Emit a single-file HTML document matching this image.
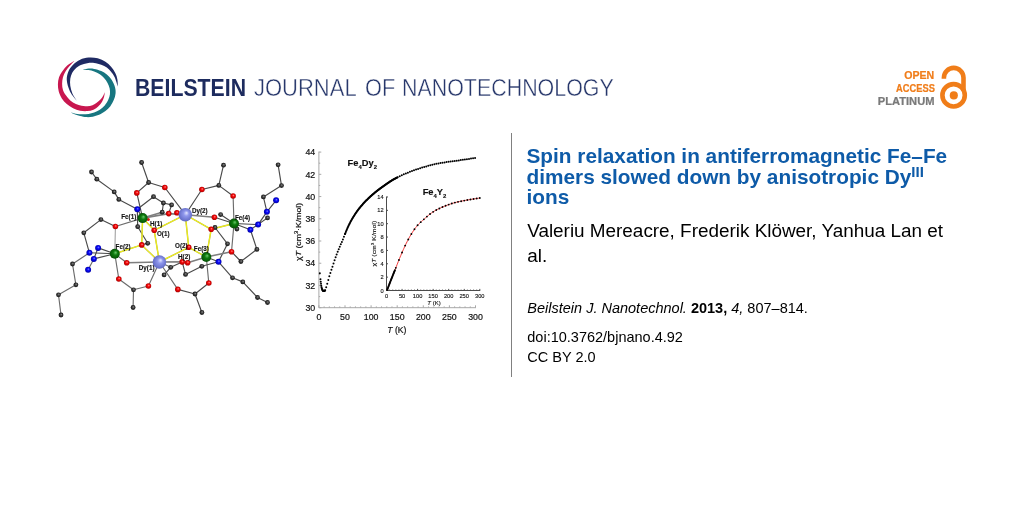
<!DOCTYPE html>
<html lang="en">
<head>
<meta charset="utf-8">
<title>Spin relaxation in antiferromagnetic Fe–Fe dimers slowed down by anisotropic DyIII ions</title>
<style>
html,body{margin:0;padding:0;background:#fff;}
body{width:1024px;height:512px;position:relative;overflow:hidden;will-change:transform;font-family:"Liberation Sans",sans-serif;color:#000;}
.abs{position:absolute;white-space:nowrap;}
.hw{position:absolute;top:74.2px;font-size:23px;line-height:28px;color:#27376b;white-space:nowrap;transform-origin:0 0;}
#w1{left:134.5px;font-weight:bold;color:#1d2b5e;transform:scaleX(0.924);}
#w2{left:253.5px;transform:scaleX(0.956);-webkit-text-stroke:0.4px #fff;}
#w3{left:364.6px;transform:scaleX(0.944);-webkit-text-stroke:0.4px #fff;}
#w4{left:401.5px;transform:scaleX(0.931);-webkit-text-stroke:0.4px #fff;}
.oa{position:absolute;right:89.4px;text-align:right;font-weight:bold;font-size:10.3px;line-height:13.2px;color:#f07d1a;white-space:nowrap;transform-origin:100% 0;-webkit-text-stroke:0.22px currentColor;}
#vline{position:absolute;left:511px;top:133.4px;width:1px;height:244px;background:#808080;}
#title{position:absolute;left:526.5px;top:146.1px;width:432px;font-weight:bold;font-size:20.8px;line-height:20.6px;color:#0e5ba8;}
#title sup{font-size:15px;line-height:0;vertical-align:baseline;position:relative;top:-6.5px;}
#authors{position:absolute;left:527.2px;top:218.1px;width:430px;font-size:18.9px;line-height:25.2px;color:#000;}
#cite{position:absolute;left:527.3px;top:297.8px;font-size:14.5px;line-height:20.6px;white-space:nowrap;}
#doi{position:absolute;left:527.3px;top:326.8px;font-size:14.5px;line-height:20.6px;white-space:nowrap;}
</style>
</head>
<body>
<!--LOGO_S--><svg class="abs" style="left:50px;top:50px;" width="76" height="76" viewBox="50 50 76 76">
<path fill="#1f2a63" d="M76.61 100.52 C75.51 98.99 71.64 94.77 70.00 91.38 C68.36 87.98 67.00 83.52 66.77 80.12 C66.53 76.73 67.54 73.56 68.59 70.98 C69.65 68.41 71.17 66.53 73.09 64.66 C75.02 62.78 77.55 60.91 80.12 59.73 C82.70 58.56 85.63 57.86 88.56 57.62 C91.49 57.39 94.89 57.62 97.70 58.33 C100.52 59.03 103.21 60.44 105.44 61.84 C107.66 63.25 109.42 64.89 111.06 66.77 C112.70 68.64 114.23 70.98 115.28 73.09 C116.34 75.20 116.97 77.20 117.39 79.42 C117.81 81.65 117.74 85.28 117.81 86.45 L117.81 86.45 C117.27 84.88 115.70 79.49 114.58 77.03 C113.45 74.57 112.35 73.28 111.06 71.69 C109.77 70.09 108.48 68.64 106.84 67.47 C105.20 66.30 103.33 65.41 101.22 64.66 C99.11 63.91 96.53 63.20 94.19 62.97 C91.84 62.73 89.38 62.90 87.16 63.25 C84.93 63.60 82.82 64.14 80.83 65.08 C78.84 66.02 76.66 67.54 75.20 68.88 C73.75 70.21 72.93 71.45 72.11 73.09 C71.29 74.73 70.59 76.61 70.28 78.72 C69.98 80.83 69.93 83.29 70.28 85.75 C70.63 88.21 71.34 91.02 72.39 93.48 C73.45 95.95 75.91 99.34 76.61 100.52Z"/>
<path fill="#c8174f" d="M74.50 60.72 C73.33 61.49 69.46 63.65 67.47 65.36 C65.48 67.07 63.95 68.99 62.55 70.98 C61.14 72.98 59.80 75.09 59.03 77.31 C58.26 79.54 57.95 82.00 57.91 84.34 C57.86 86.69 58.09 89.03 58.75 91.38 C59.41 93.72 60.51 96.30 61.84 98.41 C63.18 100.52 64.89 102.39 66.77 104.03 C68.64 105.67 70.87 107.15 73.09 108.25 C75.32 109.35 77.78 110.17 80.12 110.64 C82.47 111.11 84.93 111.23 87.16 111.06 C89.38 110.90 91.61 110.48 93.48 109.66 C95.36 108.84 97.00 107.43 98.41 106.14 C99.81 104.85 100.98 103.45 101.92 101.92 C102.86 100.40 103.54 98.64 104.03 97.00 C104.52 95.36 104.73 92.90 104.88 92.08 L104.88 92.08 C104.62 92.66 103.98 94.42 103.33 95.59 C102.67 96.77 101.99 97.94 100.94 99.11 C99.88 100.28 98.41 101.62 97.00 102.62 C95.59 103.63 94.14 104.57 92.50 105.16 C90.86 105.74 88.98 106.02 87.16 106.14 C85.33 106.26 83.41 106.21 81.53 105.86 C79.66 105.51 77.78 104.92 75.91 104.03 C74.03 103.14 71.92 101.92 70.28 100.52 C68.64 99.11 67.28 97.35 66.06 95.59 C64.84 93.84 63.62 91.96 62.97 89.97 C62.31 87.98 62.12 85.75 62.12 83.64 C62.12 81.53 62.36 79.42 62.97 77.31 C63.58 75.20 64.68 72.86 65.78 70.98 C66.88 69.11 68.12 67.77 69.58 66.06 C71.03 64.35 73.68 61.61 74.50 60.72Z"/>
<path fill="#177680" d="M82.94 70.00 C83.88 69.77 86.69 68.78 88.56 68.59 C90.44 68.41 92.08 68.48 94.19 68.88 C96.30 69.27 99.11 70.05 101.22 70.98 C103.33 71.92 105.09 72.98 106.84 74.50 C108.60 76.02 110.41 78.02 111.77 80.12 C113.12 82.23 114.37 84.93 115.00 87.16 C115.63 89.38 115.75 91.38 115.56 93.48 C115.38 95.59 114.74 97.70 113.88 99.81 C113.01 101.92 111.77 104.27 110.36 106.14 C108.95 108.02 107.31 109.61 105.44 111.06 C103.56 112.52 101.22 113.92 99.11 114.86 C97.00 115.80 94.89 116.31 92.78 116.69 C90.67 117.06 88.56 117.23 86.45 117.11 C84.34 116.99 82.00 116.41 80.12 115.98 C78.25 115.56 76.73 115.16 75.20 114.58 C73.68 113.99 71.69 112.82 70.98 112.47 L70.98 112.47 C72.04 112.73 75.32 113.71 77.31 114.02 C79.30 114.32 81.06 114.32 82.94 114.30 C84.81 114.27 86.69 114.18 88.56 113.88 C90.44 113.57 92.31 113.17 94.19 112.47 C96.06 111.77 98.05 110.83 99.81 109.66 C101.57 108.48 103.33 107.08 104.73 105.44 C106.14 103.80 107.38 101.69 108.25 99.81 C109.12 97.94 109.70 96.06 109.94 94.19 C110.17 92.31 110.05 90.44 109.66 88.56 C109.26 86.69 108.48 84.70 107.55 82.94 C106.61 81.18 105.32 79.47 104.03 78.02 C102.74 76.56 101.45 75.32 99.81 74.22 C98.17 73.12 96.06 72.11 94.19 71.41 C92.31 70.70 90.44 70.23 88.56 70.00 C86.69 69.77 83.88 70.00 82.94 70.00Z"/>
</svg><!--LOGO_E-->
<div class="hw" id="w1">BEILSTEIN</div>
<div class="hw" id="w2">JOURNAL</div>
<div class="hw" id="w3">OF</div>
<div class="hw" id="w4">NANOTECHNOLOGY</div>
<div class="oa" id="oa1" style="top:68.6px;transform:scaleX(1.025);">OPEN</div>
<div class="oa" id="oa2" style="top:81.8px;transform:scaleX(0.905);">ACCESS</div>
<div class="oa" id="oa3" style="top:95.0px;color:#7a7a7a;transform:scaleX(1.08);">PLATINUM</div>
<svg class="abs" style="left:930px;top:55px;" width="50" height="65" viewBox="930 55 50 65">
<circle cx="953.6" cy="95.3" r="11.2" fill="none" stroke="#f07d19" stroke-width="4.6"/>
<circle cx="953.8" cy="95.4" r="4.05" fill="#f07d19"/>
<path d="M943.9 78.8 V77.7 A9.8 9.8 0 0 1 963.5 77.7 V91" fill="none" stroke="#f07d19" stroke-width="4.6"/>
</svg>
<!--MOL_S--><svg class="abs" style="left:50px;top:150px;" width="250" height="180" viewBox="50 150 250 180">
<defs>
<radialGradient id="gC" cx="0.5" cy="0.5" r="0.55" fx="0.58" fy="0.38"><stop offset="0" stop-color="#8a8a8a"/><stop offset="0.45" stop-color="#3c3c3c"/><stop offset="1" stop-color="#0c0c0c"/></radialGradient>
<radialGradient id="gO" cx="0.5" cy="0.5" r="0.55" fx="0.58" fy="0.38"><stop offset="0" stop-color="#ff8a8a"/><stop offset="0.4" stop-color="#f40808"/><stop offset="1" stop-color="#a00000"/></radialGradient>
<radialGradient id="gN" cx="0.5" cy="0.5" r="0.55" fx="0.58" fy="0.38"><stop offset="0" stop-color="#7a7aff"/><stop offset="0.4" stop-color="#0808f8"/><stop offset="1" stop-color="#00009a"/></radialGradient>
<radialGradient id="gF" cx="0.5" cy="0.5" r="0.55" fx="0.6" fy="0.36"><stop offset="0" stop-color="#6cc86c"/><stop offset="0.4" stop-color="#0e7c0e"/><stop offset="1" stop-color="#044a04"/></radialGradient>
<radialGradient id="gD" cx="0.5" cy="0.5" r="0.55" fx="0.6" fy="0.36"><stop offset="0" stop-color="#e4e6ff"/><stop offset="0.35" stop-color="#8f97ec"/><stop offset="1" stop-color="#5b64c0"/></radialGradient>
</defs>
<g stroke-linecap="round">
<line x1="115.4" y1="226.5" x2="114.8" y2="253.8" stroke="#8c8c8c" stroke-width="0.9"/>
<line x1="89.4" y1="252.8" x2="72.5" y2="264.0" stroke="#6c6c6c" stroke-width="1.15"/>
<line x1="72.5" y1="264.0" x2="75.9" y2="284.8" stroke="#6c6c6c" stroke-width="1.15"/>
<line x1="75.9" y1="284.8" x2="58.5" y2="294.8" stroke="#6c6c6c" stroke-width="1.15"/>
<line x1="58.5" y1="294.8" x2="61.0" y2="315.0" stroke="#6c6c6c" stroke-width="1.15"/>
<line x1="114.8" y1="253.8" x2="118.8" y2="279.0" stroke="#6c6c6c" stroke-width="1.15"/>
<line x1="118.8" y1="279.0" x2="133.5" y2="289.8" stroke="#6c6c6c" stroke-width="1.15"/>
<line x1="133.5" y1="289.8" x2="148.4" y2="286.0" stroke="#6c6c6c" stroke-width="1.15"/>
<line x1="148.4" y1="286.0" x2="159.4" y2="262.0" stroke="#6c6c6c" stroke-width="1.15"/>
<line x1="133.5" y1="289.8" x2="133.1" y2="307.5" stroke="#6c6c6c" stroke-width="1.15"/>
<line x1="159.4" y1="262.0" x2="177.8" y2="289.4" stroke="#6c6c6c" stroke-width="1.15"/>
<line x1="159.4" y1="262.0" x2="170.7" y2="267.3" stroke="#6c6c6c" stroke-width="1.15"/>
<line x1="114.8" y1="253.8" x2="126.7" y2="262.8" stroke="#6c6c6c" stroke-width="1.15"/>
<line x1="93.8" y1="258.9" x2="88.1" y2="269.8" stroke="#6c6c6c" stroke-width="1.15"/>
<line x1="142.6" y1="218.1" x2="115.4" y2="226.5" stroke="#6c6c6c" stroke-width="1.15"/>
<line x1="208.8" y1="283.0" x2="206.3" y2="257.0" stroke="#6c6c6c" stroke-width="1.15"/>
<line x1="231.5" y1="251.7" x2="234.0" y2="223.5" stroke="#6c6c6c" stroke-width="1.15"/>
<line x1="233.1" y1="196.0" x2="234.0" y2="223.5" stroke="#6c6c6c" stroke-width="1.15"/>
<line x1="141.6" y1="162.5" x2="148.6" y2="182.5" stroke="#4a4a4a" stroke-width="1.15"/>
<line x1="148.6" y1="182.5" x2="136.8" y2="192.9" stroke="#4a4a4a" stroke-width="1.15"/>
<line x1="148.6" y1="182.5" x2="164.8" y2="187.5" stroke="#4a4a4a" stroke-width="1.15"/>
<line x1="136.8" y1="192.9" x2="142.6" y2="218.1" stroke="#4a4a4a" stroke-width="1.15"/>
<line x1="164.8" y1="187.5" x2="185.3" y2="214.7" stroke="#4a4a4a" stroke-width="1.15"/>
<line x1="91.5" y1="172.0" x2="96.8" y2="179.2" stroke="#4a4a4a" stroke-width="1.15"/>
<line x1="96.8" y1="179.2" x2="114.2" y2="191.9" stroke="#4a4a4a" stroke-width="1.15"/>
<line x1="114.2" y1="191.9" x2="118.8" y2="199.4" stroke="#4a4a4a" stroke-width="1.15"/>
<line x1="118.8" y1="199.4" x2="137.3" y2="209.3" stroke="#4a4a4a" stroke-width="1.15"/>
<line x1="137.3" y1="209.3" x2="153.5" y2="196.7" stroke="#4a4a4a" stroke-width="1.15"/>
<line x1="153.5" y1="196.7" x2="163.4" y2="203.0" stroke="#4a4a4a" stroke-width="1.15"/>
<line x1="163.4" y1="203.0" x2="162.2" y2="212.2" stroke="#4a4a4a" stroke-width="1.15"/>
<line x1="163.4" y1="203.0" x2="171.6" y2="204.9" stroke="#4a4a4a" stroke-width="1.15"/>
<line x1="171.6" y1="204.9" x2="168.7" y2="213.6" stroke="#4a4a4a" stroke-width="1.15"/>
<line x1="137.3" y1="209.3" x2="142.6" y2="218.1" stroke="#4a4a4a" stroke-width="1.15"/>
<line x1="115.4" y1="226.5" x2="100.9" y2="219.6" stroke="#4a4a4a" stroke-width="1.15"/>
<line x1="100.9" y1="219.6" x2="83.8" y2="232.8" stroke="#4a4a4a" stroke-width="1.15"/>
<line x1="83.8" y1="232.8" x2="89.4" y2="252.8" stroke="#4a4a4a" stroke-width="1.15"/>
<line x1="137.3" y1="209.3" x2="137.7" y2="226.7" stroke="#4a4a4a" stroke-width="1.15"/>
<line x1="137.7" y1="226.7" x2="147.7" y2="243.3" stroke="#4a4a4a" stroke-width="1.15"/>
<line x1="147.7" y1="243.3" x2="141.7" y2="244.9" stroke="#4a4a4a" stroke-width="1.15"/>
<line x1="114.8" y1="253.8" x2="89.4" y2="252.8" stroke="#4a4a4a" stroke-width="1.15"/>
<line x1="114.8" y1="253.8" x2="98.1" y2="247.9" stroke="#4a4a4a" stroke-width="1.15"/>
<line x1="114.8" y1="253.8" x2="93.8" y2="258.9" stroke="#4a4a4a" stroke-width="1.15"/>
<line x1="98.1" y1="247.9" x2="93.8" y2="258.9" stroke="#4a4a4a" stroke-width="1.15"/>
<line x1="177.8" y1="289.4" x2="195.0" y2="294.0" stroke="#4a4a4a" stroke-width="1.15"/>
<line x1="195.0" y1="294.0" x2="208.8" y2="283.0" stroke="#4a4a4a" stroke-width="1.15"/>
<line x1="195.0" y1="294.0" x2="201.9" y2="312.5" stroke="#4a4a4a" stroke-width="1.15"/>
<line x1="182.2" y1="261.9" x2="170.7" y2="267.3" stroke="#4a4a4a" stroke-width="1.15"/>
<line x1="170.7" y1="267.3" x2="164.1" y2="274.9" stroke="#4a4a4a" stroke-width="1.15"/>
<line x1="182.2" y1="261.9" x2="185.5" y2="274.4" stroke="#4a4a4a" stroke-width="1.15"/>
<line x1="185.5" y1="274.4" x2="201.8" y2="266.3" stroke="#4a4a4a" stroke-width="1.15"/>
<line x1="201.8" y1="266.3" x2="218.5" y2="261.8" stroke="#4a4a4a" stroke-width="1.15"/>
<line x1="206.3" y1="257.0" x2="218.5" y2="261.8" stroke="#4a4a4a" stroke-width="1.15"/>
<line x1="218.5" y1="261.8" x2="232.5" y2="277.8" stroke="#4a4a4a" stroke-width="1.15"/>
<line x1="232.5" y1="277.8" x2="242.8" y2="281.9" stroke="#4a4a4a" stroke-width="1.15"/>
<line x1="242.8" y1="281.9" x2="257.5" y2="297.5" stroke="#4a4a4a" stroke-width="1.15"/>
<line x1="257.5" y1="297.5" x2="267.5" y2="302.5" stroke="#4a4a4a" stroke-width="1.15"/>
<line x1="218.5" y1="261.8" x2="227.5" y2="243.8" stroke="#4a4a4a" stroke-width="1.15"/>
<line x1="227.5" y1="243.8" x2="215.0" y2="227.5" stroke="#4a4a4a" stroke-width="1.15"/>
<line x1="215.0" y1="227.5" x2="211.2" y2="229.3" stroke="#4a4a4a" stroke-width="1.15"/>
<line x1="231.5" y1="251.7" x2="240.9" y2="261.5" stroke="#4a4a4a" stroke-width="1.15"/>
<line x1="240.9" y1="261.5" x2="256.9" y2="249.4" stroke="#4a4a4a" stroke-width="1.15"/>
<line x1="256.9" y1="249.4" x2="250.4" y2="229.8" stroke="#4a4a4a" stroke-width="1.15"/>
<line x1="223.5" y1="165.2" x2="218.8" y2="185.4" stroke="#4a4a4a" stroke-width="1.15"/>
<line x1="218.8" y1="185.4" x2="201.9" y2="189.5" stroke="#4a4a4a" stroke-width="1.15"/>
<line x1="218.8" y1="185.4" x2="233.1" y2="196.0" stroke="#4a4a4a" stroke-width="1.15"/>
<line x1="201.9" y1="189.5" x2="185.3" y2="214.7" stroke="#4a4a4a" stroke-width="1.15"/>
<line x1="278.1" y1="164.8" x2="281.5" y2="185.6" stroke="#4a4a4a" stroke-width="1.15"/>
<line x1="281.5" y1="185.6" x2="263.4" y2="196.9" stroke="#4a4a4a" stroke-width="1.15"/>
<line x1="263.4" y1="196.9" x2="266.9" y2="211.8" stroke="#4a4a4a" stroke-width="1.15"/>
<line x1="266.9" y1="211.8" x2="276.1" y2="200.3" stroke="#4a4a4a" stroke-width="1.15"/>
<line x1="266.9" y1="211.8" x2="258.1" y2="224.6" stroke="#4a4a4a" stroke-width="1.15"/>
<line x1="258.1" y1="224.6" x2="234.0" y2="223.5" stroke="#4a4a4a" stroke-width="1.15"/>
<line x1="250.4" y1="229.8" x2="234.0" y2="223.5" stroke="#4a4a4a" stroke-width="1.15"/>
<line x1="250.4" y1="229.8" x2="267.5" y2="217.9" stroke="#4a4a4a" stroke-width="1.15"/>
<line x1="236.9" y1="229.0" x2="234.0" y2="223.5" stroke="#4a4a4a" stroke-width="1.15"/>
<line x1="214.4" y1="217.3" x2="234.0" y2="223.5" stroke="#4a4a4a" stroke-width="1.15"/>
<line x1="220.6" y1="214.6" x2="234.0" y2="223.5" stroke="#4a4a4a" stroke-width="1.15"/>
<line x1="142.6" y1="218.1" x2="168.7" y2="213.6" stroke="#7e7e7e" stroke-width="1.6"/>
<line x1="168.7" y1="213.6" x2="185.3" y2="214.7" stroke="#7e7e7e" stroke-width="1.6"/>
<line x1="176.9" y1="212.8" x2="185.3" y2="214.7" stroke="#7e7e7e" stroke-width="1.6"/>
<line x1="185.3" y1="214.7" x2="214.4" y2="217.3" stroke="#7e7e7e" stroke-width="1.6"/>
<line x1="126.7" y1="262.8" x2="159.4" y2="262.0" stroke="#7e7e7e" stroke-width="1.6"/>
<line x1="159.4" y1="262.0" x2="182.2" y2="261.9" stroke="#7e7e7e" stroke-width="1.6"/>
<line x1="187.6" y1="262.7" x2="206.3" y2="257.0" stroke="#7e7e7e" stroke-width="1.6"/>
<line x1="206.3" y1="257.0" x2="231.5" y2="251.7" stroke="#7e7e7e" stroke-width="1.6"/>
<line x1="142.6" y1="218.1" x2="162.2" y2="212.2" stroke="#7e7e7e" stroke-width="1.6"/>
<line x1="142.6" y1="218.1" x2="141.7" y2="244.9" stroke="#bcbc38" stroke-width="1.45"/>
<line x1="142.6" y1="218.1" x2="141.7" y2="244.9" stroke="#f2f21c" stroke-width="1.0"/>
<line x1="142.6" y1="218.1" x2="154.2" y2="230.3" stroke="#bcbc38" stroke-width="1.45"/>
<line x1="142.6" y1="218.1" x2="154.2" y2="230.3" stroke="#f2f21c" stroke-width="1.0"/>
<line x1="154.2" y1="230.3" x2="185.3" y2="214.7" stroke="#bcbc38" stroke-width="1.45"/>
<line x1="154.2" y1="230.3" x2="185.3" y2="214.7" stroke="#f2f21c" stroke-width="1.0"/>
<line x1="154.2" y1="230.3" x2="159.4" y2="262.0" stroke="#bcbc38" stroke-width="1.45"/>
<line x1="154.2" y1="230.3" x2="159.4" y2="262.0" stroke="#f2f21c" stroke-width="1.0"/>
<line x1="141.7" y1="244.9" x2="114.8" y2="253.8" stroke="#bcbc38" stroke-width="1.45"/>
<line x1="141.7" y1="244.9" x2="114.8" y2="253.8" stroke="#f2f21c" stroke-width="1.0"/>
<line x1="141.7" y1="244.9" x2="159.4" y2="262.0" stroke="#bcbc38" stroke-width="1.45"/>
<line x1="141.7" y1="244.9" x2="159.4" y2="262.0" stroke="#f2f21c" stroke-width="1.0"/>
<line x1="185.3" y1="214.7" x2="211.2" y2="229.3" stroke="#bcbc38" stroke-width="1.45"/>
<line x1="185.3" y1="214.7" x2="211.2" y2="229.3" stroke="#f2f21c" stroke-width="1.0"/>
<line x1="211.2" y1="229.3" x2="234.0" y2="223.5" stroke="#bcbc38" stroke-width="1.45"/>
<line x1="211.2" y1="229.3" x2="234.0" y2="223.5" stroke="#f2f21c" stroke-width="1.0"/>
<line x1="211.2" y1="229.3" x2="206.3" y2="257.0" stroke="#bcbc38" stroke-width="1.45"/>
<line x1="211.2" y1="229.3" x2="206.3" y2="257.0" stroke="#f2f21c" stroke-width="1.0"/>
<line x1="185.3" y1="214.7" x2="188.7" y2="247.3" stroke="#bcbc38" stroke-width="1.45"/>
<line x1="185.3" y1="214.7" x2="188.7" y2="247.3" stroke="#f2f21c" stroke-width="1.0"/>
<line x1="188.7" y1="247.3" x2="206.3" y2="257.0" stroke="#bcbc38" stroke-width="1.45"/>
<line x1="188.7" y1="247.3" x2="206.3" y2="257.0" stroke="#f2f21c" stroke-width="1.0"/>
<line x1="188.7" y1="247.3" x2="159.4" y2="262.0" stroke="#bcbc38" stroke-width="1.45"/>
<line x1="188.7" y1="247.3" x2="159.4" y2="262.0" stroke="#f2f21c" stroke-width="1.0"/>
</g>
<circle cx="148.3" cy="219.4" r="1.5" fill="#e01010"/>
<circle cx="141.6" cy="162.5" r="2.4" fill="url(#gC)"/>
<circle cx="148.6" cy="182.5" r="2.4" fill="url(#gC)"/>
<circle cx="91.5" cy="172.0" r="2.4" fill="url(#gC)"/>
<circle cx="96.8" cy="179.2" r="2.4" fill="url(#gC)"/>
<circle cx="114.2" cy="191.9" r="2.4" fill="url(#gC)"/>
<circle cx="118.8" cy="199.4" r="2.4" fill="url(#gC)"/>
<circle cx="153.5" cy="196.7" r="2.4" fill="url(#gC)"/>
<circle cx="163.4" cy="203.0" r="2.4" fill="url(#gC)"/>
<circle cx="171.6" cy="204.9" r="2.4" fill="url(#gC)"/>
<circle cx="162.2" cy="212.2" r="2.4" fill="url(#gC)"/>
<circle cx="100.9" cy="219.6" r="2.4" fill="url(#gC)"/>
<circle cx="83.8" cy="232.8" r="2.4" fill="url(#gC)"/>
<circle cx="137.7" cy="226.7" r="2.4" fill="url(#gC)"/>
<circle cx="147.7" cy="243.3" r="2.4" fill="url(#gC)"/>
<circle cx="72.5" cy="264.0" r="2.4" fill="url(#gC)"/>
<circle cx="75.9" cy="284.8" r="2.4" fill="url(#gC)"/>
<circle cx="58.5" cy="294.8" r="2.4" fill="url(#gC)"/>
<circle cx="61.0" cy="315.0" r="2.4" fill="url(#gC)"/>
<circle cx="133.5" cy="289.8" r="2.4" fill="url(#gC)"/>
<circle cx="133.1" cy="307.5" r="2.4" fill="url(#gC)"/>
<circle cx="170.7" cy="267.3" r="2.4" fill="url(#gC)"/>
<circle cx="164.1" cy="274.9" r="2.4" fill="url(#gC)"/>
<circle cx="223.5" cy="165.2" r="2.4" fill="url(#gC)"/>
<circle cx="218.8" cy="185.4" r="2.4" fill="url(#gC)"/>
<circle cx="278.1" cy="164.8" r="2.4" fill="url(#gC)"/>
<circle cx="281.5" cy="185.6" r="2.4" fill="url(#gC)"/>
<circle cx="263.4" cy="196.9" r="2.4" fill="url(#gC)"/>
<circle cx="220.6" cy="214.6" r="2.4" fill="url(#gC)"/>
<circle cx="215.0" cy="227.5" r="2.4" fill="url(#gC)"/>
<circle cx="227.5" cy="243.8" r="2.4" fill="url(#gC)"/>
<circle cx="256.9" cy="249.4" r="2.4" fill="url(#gC)"/>
<circle cx="240.9" cy="261.5" r="2.4" fill="url(#gC)"/>
<circle cx="267.5" cy="217.9" r="2.4" fill="url(#gC)"/>
<circle cx="236.9" cy="229.0" r="2.4" fill="url(#gC)"/>
<circle cx="201.8" cy="266.3" r="2.4" fill="url(#gC)"/>
<circle cx="185.5" cy="274.4" r="2.4" fill="url(#gC)"/>
<circle cx="195.0" cy="294.0" r="2.4" fill="url(#gC)"/>
<circle cx="201.9" cy="312.5" r="2.4" fill="url(#gC)"/>
<circle cx="232.5" cy="277.8" r="2.4" fill="url(#gC)"/>
<circle cx="242.8" cy="281.9" r="2.4" fill="url(#gC)"/>
<circle cx="257.5" cy="297.5" r="2.4" fill="url(#gC)"/>
<circle cx="267.5" cy="302.5" r="2.4" fill="url(#gC)"/>
<circle cx="136.8" cy="192.9" r="2.8" fill="url(#gO)"/>
<circle cx="164.8" cy="187.5" r="2.8" fill="url(#gO)"/>
<circle cx="168.7" cy="213.6" r="2.8" fill="url(#gO)"/>
<circle cx="176.9" cy="212.8" r="2.8" fill="url(#gO)"/>
<circle cx="115.4" cy="226.5" r="2.8" fill="url(#gO)"/>
<circle cx="141.7" cy="244.9" r="2.8" fill="url(#gO)"/>
<circle cx="154.2" cy="230.3" r="2.8" fill="url(#gO)"/>
<circle cx="126.7" cy="262.8" r="2.8" fill="url(#gO)"/>
<circle cx="118.8" cy="279.0" r="2.8" fill="url(#gO)"/>
<circle cx="148.4" cy="286.0" r="2.8" fill="url(#gO)"/>
<circle cx="177.8" cy="289.4" r="2.8" fill="url(#gO)"/>
<circle cx="201.9" cy="189.5" r="2.8" fill="url(#gO)"/>
<circle cx="233.1" cy="196.0" r="2.8" fill="url(#gO)"/>
<circle cx="214.4" cy="217.3" r="2.8" fill="url(#gO)"/>
<circle cx="211.2" cy="229.3" r="2.8" fill="url(#gO)"/>
<circle cx="188.7" cy="247.3" r="2.8" fill="url(#gO)"/>
<circle cx="231.5" cy="251.7" r="2.8" fill="url(#gO)"/>
<circle cx="182.2" cy="261.9" r="2.8" fill="url(#gO)"/>
<circle cx="187.6" cy="262.7" r="2.8" fill="url(#gO)"/>
<circle cx="208.8" cy="283.0" r="2.8" fill="url(#gO)"/>
<circle cx="137.3" cy="209.3" r="3.0" fill="url(#gN)"/>
<circle cx="89.4" cy="252.8" r="3.0" fill="url(#gN)"/>
<circle cx="98.1" cy="247.9" r="3.0" fill="url(#gN)"/>
<circle cx="93.8" cy="258.9" r="3.0" fill="url(#gN)"/>
<circle cx="88.1" cy="269.8" r="3.0" fill="url(#gN)"/>
<circle cx="276.1" cy="200.3" r="3.0" fill="url(#gN)"/>
<circle cx="266.9" cy="211.8" r="3.0" fill="url(#gN)"/>
<circle cx="258.1" cy="224.6" r="3.0" fill="url(#gN)"/>
<circle cx="250.4" cy="229.8" r="3.0" fill="url(#gN)"/>
<circle cx="218.5" cy="261.8" r="3.0" fill="url(#gN)"/>
<circle cx="142.6" cy="218.1" r="5" fill="url(#gF)"/>
<circle cx="114.8" cy="253.8" r="5" fill="url(#gF)"/>
<circle cx="206.3" cy="257.0" r="5" fill="url(#gF)"/>
<circle cx="234.0" cy="223.5" r="5" fill="url(#gF)"/>
<circle cx="159.4" cy="262.0" r="6.8" fill="url(#gD)"/>
<circle cx="185.3" cy="214.7" r="6.8" fill="url(#gD)"/>
<g font-family="Liberation Sans, sans-serif" font-weight="bold" font-size="6.3" fill="#111" stroke="#111" stroke-width="0.12">
<text x="121.2" y="218.8">Fe(1)</text>
<text x="150.0" y="225.6">H(1)</text>
<text x="156.9" y="236.2">O(1)</text>
<text x="115.6" y="248.8">Fe(2)</text>
<text x="138.8" y="270.2">Dy(1)</text>
<text x="191.9" y="213.3">Dy(2)</text>
<text x="235.0" y="220.0">Fe(4)</text>
<text x="175.0" y="248.0">O(2)</text>
<text x="193.8" y="250.6">Fe(3)</text>
<text x="178.0" y="258.8">H(2)</text>
</g>
</svg><!--MOL_E-->
<!--CH_S--><svg class="abs" style="left:290px;top:140px;" width="205" height="205" viewBox="290 140 205 205">
<g stroke="#a8a8a8" stroke-width="1" fill="none">
<path d="M318.9 151.6 V307.7 H476.0"/>
<path d="M318.9 307.70 h2.4M318.9 296.58 h1.3M318.9 285.47 h2.4M318.9 274.36 h1.3M318.9 263.24 h2.4M318.9 252.12 h1.3M318.9 241.01 h2.4M318.9 229.89 h1.3M318.9 218.78 h2.4M318.9 207.66 h1.3M318.9 196.55 h2.4M318.9 185.44 h1.3M318.9 174.32 h2.4M318.9 163.20 h1.3M318.9 152.09 h2.4M318.90 307.7 v-2.4M324.12 307.7 v-1.3M329.34 307.7 v-1.3M334.56 307.7 v-1.3M339.78 307.7 v-1.3M345.00 307.7 v-2.4M350.22 307.7 v-1.3M355.44 307.7 v-1.3M360.66 307.7 v-1.3M365.88 307.7 v-1.3M371.10 307.7 v-2.4M376.32 307.7 v-1.3M381.54 307.7 v-1.3M386.76 307.7 v-1.3M391.98 307.7 v-1.3M397.20 307.7 v-2.4M402.42 307.7 v-1.3M407.64 307.7 v-1.3M412.86 307.7 v-1.3M418.08 307.7 v-1.3M423.30 307.7 v-2.4M428.52 307.7 v-1.3M433.74 307.7 v-1.3M438.96 307.7 v-1.3M444.18 307.7 v-1.3M449.40 307.7 v-2.4M454.62 307.7 v-1.3M459.84 307.7 v-1.3M465.06 307.7 v-1.3M470.28 307.7 v-1.3M475.50 307.7 v-2.4"/>
</g>
<g font-family="Liberation Sans, sans-serif" font-size="8.8" fill="#111" stroke="#111" stroke-width="0.2">
<text x="315.2" y="310.8" text-anchor="end">30</text>
<text x="315.2" y="288.6" text-anchor="end">32</text>
<text x="315.2" y="266.4" text-anchor="end">34</text>
<text x="315.2" y="244.2" text-anchor="end">36</text>
<text x="315.2" y="221.9" text-anchor="end">38</text>
<text x="315.2" y="199.7" text-anchor="end">40</text>
<text x="315.2" y="177.5" text-anchor="end">42</text>
<text x="315.2" y="155.2" text-anchor="end">44</text>
<text x="318.9" y="320.1" text-anchor="middle">0</text>
<text x="345.0" y="320.1" text-anchor="middle">50</text>
<text x="371.1" y="320.1" text-anchor="middle">100</text>
<text x="397.2" y="320.1" text-anchor="middle">150</text>
<text x="423.3" y="320.1" text-anchor="middle">200</text>
<text x="449.4" y="320.1" text-anchor="middle">250</text>
<text x="475.5" y="320.1" text-anchor="middle">300</text>
<text x="396.8" y="333" text-anchor="middle" font-size="8.6"><tspan font-style="italic">T</tspan> (K)</text>
<text transform="translate(300.9 231.9) rotate(-90) scale(1.09 1)" text-anchor="middle" font-size="8">χ<tspan font-style="italic">T</tspan> (cm<tspan font-size="5.2" dy="-2.8">3</tspan><tspan dy="2.8">·K/mol)</tspan></text>
</g>
<g fill="#000">
<circle cx="319.84" cy="273.29" r="1.00"/>
<circle cx="320.47" cy="279.36" r="1.00"/>
<circle cx="320.73" cy="281.69" r="1.00"/>
<circle cx="320.99" cy="283.80" r="1.00"/>
<circle cx="321.25" cy="285.64" r="1.00"/>
<circle cx="321.51" cy="287.14" r="1.00"/>
<circle cx="321.77" cy="288.23" r="1.00"/>
<circle cx="322.03" cy="289.03" r="1.00"/>
<circle cx="322.29" cy="289.64" r="1.00"/>
<circle cx="322.55" cy="290.18" r="1.00"/>
<circle cx="322.81" cy="290.59" r="1.00"/>
<circle cx="323.08" cy="290.81" r="1.00"/>
<circle cx="323.34" cy="290.90" r="1.00"/>
<circle cx="323.60" cy="290.97" r="1.00"/>
<circle cx="323.86" cy="291.01" r="1.00"/>
<circle cx="324.12" cy="291.03" r="1.00"/>
<circle cx="324.38" cy="290.95" r="1.00"/>
<circle cx="324.64" cy="290.75" r="1.00"/>
<circle cx="324.90" cy="290.46" r="1.00"/>
<circle cx="325.16" cy="290.14" r="1.00"/>
<circle cx="326.21" cy="287.28" r="1.00"/>
<circle cx="327.25" cy="283.70" r="1.00"/>
<circle cx="328.30" cy="279.89" r="1.00"/>
<circle cx="329.34" cy="276.28" r="1.00"/>
<circle cx="330.38" cy="272.99" r="1.00"/>
<circle cx="331.43" cy="269.82" r="1.00"/>
<circle cx="332.47" cy="266.65" r="1.00"/>
<circle cx="333.52" cy="263.44" r="1.00"/>
<circle cx="334.56" cy="260.28" r="1.00"/>
<circle cx="335.60" cy="257.29" r="1.00"/>
<circle cx="336.65" cy="254.50" r="1.00"/>
<circle cx="337.69" cy="251.85" r="1.00"/>
<circle cx="338.74" cy="249.31" r="1.00"/>
<circle cx="339.78" cy="246.83" r="1.00"/>
<circle cx="340.82" cy="244.37" r="1.00"/>
<circle cx="341.87" cy="241.91" r="1.00"/>
<circle cx="342.91" cy="239.39" r="1.00"/>
<circle cx="343.96" cy="236.77" r="1.00"/>
<circle cx="345.00" cy="234.09" r="1.00"/>
<circle cx="345.00" cy="234.09" r="1.00"/>
<circle cx="345.47" cy="232.89" r="1.00"/>
<circle cx="345.94" cy="231.71" r="1.00"/>
<circle cx="346.41" cy="230.54" r="1.00"/>
<circle cx="346.88" cy="229.40" r="1.00"/>
<circle cx="347.35" cy="228.29" r="1.00"/>
<circle cx="347.82" cy="227.22" r="1.00"/>
<circle cx="348.29" cy="226.20" r="1.00"/>
<circle cx="348.76" cy="225.24" r="1.00"/>
<circle cx="349.23" cy="224.30" r="1.00"/>
<circle cx="349.70" cy="223.39" r="1.00"/>
<circle cx="350.17" cy="222.49" r="1.00"/>
<circle cx="350.64" cy="221.61" r="1.00"/>
<circle cx="351.11" cy="220.74" r="1.00"/>
<circle cx="351.58" cy="219.90" r="1.00"/>
<circle cx="352.05" cy="219.07" r="1.00"/>
<circle cx="352.52" cy="218.26" r="1.00"/>
<circle cx="352.99" cy="217.47" r="1.00"/>
<circle cx="353.46" cy="216.69" r="1.00"/>
<circle cx="353.93" cy="215.94" r="1.00"/>
<circle cx="354.40" cy="215.20" r="1.00"/>
<circle cx="354.87" cy="214.47" r="1.00"/>
<circle cx="355.34" cy="213.77" r="1.00"/>
<circle cx="355.81" cy="213.08" r="1.00"/>
<circle cx="356.28" cy="212.40" r="1.00"/>
<circle cx="356.74" cy="211.75" r="1.00"/>
<circle cx="357.21" cy="211.10" r="1.00"/>
<circle cx="357.68" cy="210.47" r="1.00"/>
<circle cx="358.15" cy="209.84" r="1.00"/>
<circle cx="358.62" cy="209.23" r="1.00"/>
<circle cx="359.09" cy="208.62" r="1.00"/>
<circle cx="359.56" cy="208.03" r="1.00"/>
<circle cx="360.03" cy="207.44" r="1.00"/>
<circle cx="360.50" cy="206.86" r="1.00"/>
<circle cx="360.97" cy="206.30" r="1.00"/>
<circle cx="361.44" cy="205.74" r="1.00"/>
<circle cx="361.91" cy="205.19" r="1.00"/>
<circle cx="362.38" cy="204.64" r="1.00"/>
<circle cx="362.85" cy="204.11" r="1.00"/>
<circle cx="363.32" cy="203.58" r="1.00"/>
<circle cx="363.79" cy="203.07" r="1.00"/>
<circle cx="364.26" cy="202.56" r="1.00"/>
<circle cx="364.73" cy="202.05" r="1.00"/>
<circle cx="365.20" cy="201.56" r="1.00"/>
<circle cx="365.67" cy="201.07" r="1.00"/>
<circle cx="366.14" cy="200.59" r="1.00"/>
<circle cx="366.61" cy="200.11" r="1.00"/>
<circle cx="367.08" cy="199.64" r="1.00"/>
<circle cx="367.55" cy="199.18" r="1.00"/>
<circle cx="368.02" cy="198.72" r="1.00"/>
<circle cx="368.49" cy="198.27" r="1.00"/>
<circle cx="368.96" cy="197.83" r="1.00"/>
<circle cx="369.43" cy="197.39" r="1.00"/>
<circle cx="369.90" cy="196.95" r="1.00"/>
<circle cx="370.37" cy="196.52" r="1.00"/>
<circle cx="370.84" cy="196.09" r="1.00"/>
<circle cx="371.31" cy="195.67" r="1.00"/>
<circle cx="371.78" cy="195.26" r="1.00"/>
<circle cx="372.25" cy="194.85" r="1.00"/>
<circle cx="372.72" cy="194.44" r="1.00"/>
<circle cx="373.19" cy="194.04" r="1.00"/>
<circle cx="373.66" cy="193.64" r="1.00"/>
<circle cx="374.13" cy="193.25" r="1.00"/>
<circle cx="374.60" cy="192.86" r="1.00"/>
<circle cx="375.07" cy="192.47" r="1.00"/>
<circle cx="375.54" cy="192.09" r="1.00"/>
<circle cx="376.01" cy="191.71" r="1.00"/>
<circle cx="376.48" cy="191.33" r="1.00"/>
<circle cx="376.95" cy="190.96" r="1.00"/>
<circle cx="377.42" cy="190.59" r="1.00"/>
<circle cx="377.89" cy="190.23" r="1.00"/>
<circle cx="378.36" cy="189.87" r="1.00"/>
<circle cx="378.83" cy="189.51" r="1.00"/>
<circle cx="379.30" cy="189.15" r="1.00"/>
<circle cx="379.77" cy="188.80" r="1.00"/>
<circle cx="380.23" cy="188.45" r="1.00"/>
<circle cx="380.70" cy="188.10" r="1.00"/>
<circle cx="381.17" cy="187.76" r="1.00"/>
<circle cx="381.64" cy="187.41" r="1.00"/>
<circle cx="382.11" cy="187.07" r="1.00"/>
<circle cx="382.58" cy="186.74" r="1.00"/>
<circle cx="383.05" cy="186.40" r="1.00"/>
<circle cx="383.52" cy="186.06" r="1.00"/>
<circle cx="383.99" cy="185.73" r="1.00"/>
<circle cx="384.46" cy="185.40" r="1.00"/>
<circle cx="384.93" cy="185.07" r="1.00"/>
<circle cx="385.40" cy="184.74" r="1.00"/>
<circle cx="385.87" cy="184.41" r="1.00"/>
<circle cx="386.34" cy="184.08" r="1.00"/>
<circle cx="386.81" cy="183.76" r="1.00"/>
<circle cx="387.28" cy="183.44" r="1.00"/>
<circle cx="387.75" cy="183.12" r="1.00"/>
<circle cx="388.22" cy="182.80" r="1.00"/>
<circle cx="388.69" cy="182.48" r="1.00"/>
<circle cx="389.16" cy="182.17" r="1.00"/>
<circle cx="389.63" cy="181.86" r="1.00"/>
<circle cx="390.10" cy="181.55" r="1.00"/>
<circle cx="390.57" cy="181.25" r="1.00"/>
<circle cx="391.04" cy="180.95" r="1.00"/>
<circle cx="391.51" cy="180.65" r="1.00"/>
<circle cx="391.98" cy="180.36" r="1.00"/>
<circle cx="392.45" cy="180.07" r="1.00"/>
<circle cx="392.92" cy="179.79" r="1.00"/>
<circle cx="393.39" cy="179.51" r="1.00"/>
<circle cx="393.86" cy="179.23" r="1.00"/>
<circle cx="394.33" cy="178.96" r="1.00"/>
<circle cx="394.80" cy="178.70" r="1.00"/>
<circle cx="395.27" cy="178.44" r="1.00"/>
<circle cx="395.74" cy="178.19" r="1.00"/>
<circle cx="396.21" cy="177.94" r="1.00"/>
<circle cx="396.68" cy="177.69" r="1.00"/>
<circle cx="397.15" cy="177.46" r="1.00"/>
<circle cx="397.72" cy="177.17" r="1.00"/>
<circle cx="399.76" cy="176.19" r="1.00"/>
<circle cx="401.79" cy="175.25" r="1.00"/>
<circle cx="403.83" cy="174.34" r="1.00"/>
<circle cx="405.87" cy="173.47" r="1.00"/>
<circle cx="407.90" cy="172.63" r="1.00"/>
<circle cx="409.94" cy="171.82" r="1.00"/>
<circle cx="411.97" cy="171.05" r="1.00"/>
<circle cx="414.01" cy="170.31" r="1.00"/>
<circle cx="416.04" cy="169.59" r="1.00"/>
<circle cx="418.08" cy="168.91" r="1.00"/>
<circle cx="420.12" cy="168.25" r="1.00"/>
<circle cx="422.15" cy="167.62" r="1.00"/>
<circle cx="424.19" cy="167.01" r="1.00"/>
<circle cx="426.22" cy="166.42" r="1.00"/>
<circle cx="428.26" cy="165.85" r="1.00"/>
<circle cx="430.29" cy="165.31" r="1.00"/>
<circle cx="432.33" cy="164.79" r="1.00"/>
<circle cx="434.37" cy="164.31" r="1.00"/>
<circle cx="436.40" cy="163.85" r="1.00"/>
<circle cx="438.44" cy="163.43" r="1.00"/>
<circle cx="440.47" cy="163.05" r="1.00"/>
<circle cx="442.51" cy="162.70" r="1.00"/>
<circle cx="444.55" cy="162.38" r="1.00"/>
<circle cx="446.58" cy="162.08" r="1.00"/>
<circle cx="448.62" cy="161.80" r="1.00"/>
<circle cx="450.65" cy="161.53" r="1.00"/>
<circle cx="452.69" cy="161.26" r="1.00"/>
<circle cx="454.72" cy="160.99" r="1.00"/>
<circle cx="456.76" cy="160.71" r="1.00"/>
<circle cx="458.80" cy="160.42" r="1.00"/>
<circle cx="460.83" cy="160.12" r="1.00"/>
<circle cx="462.87" cy="159.81" r="1.00"/>
<circle cx="464.90" cy="159.51" r="1.00"/>
<circle cx="466.94" cy="159.19" r="1.00"/>
<circle cx="468.98" cy="158.88" r="1.00"/>
<circle cx="471.01" cy="158.57" r="1.00"/>
<circle cx="473.05" cy="158.25" r="1.00"/>
<circle cx="475.08" cy="157.94" r="1.00"/>
</g>
<g font-family="Liberation Sans, sans-serif" font-weight="bold" font-size="9.3" fill="#111" stroke="#111" stroke-width="0.15">
<text x="347.6" y="165.9">Fe<tspan font-size="5.9" dy="2.9">4</tspan><tspan dy="-2.9">Dy</tspan><tspan font-size="5.9" dy="2.9">2</tspan></text>
<text x="422.7" y="194.6">Fe<tspan font-size="5.9" dy="2.9">4</tspan><tspan dy="-2.9">Y</tspan><tspan font-size="5.9" dy="2.9">2</tspan></text>
</g>
<g stroke="#4c4c4c" stroke-width="1" fill="none">
<path d="M386.5 196.6 V290.5 H480.2"/>
<path d="M386.5 290.50 h1.5M386.5 277.14 h1.5M386.5 263.78 h1.5M386.5 250.42 h1.5M386.5 237.06 h1.5M386.5 223.70 h1.5M386.5 210.34 h1.5M386.5 196.98 h1.5M386.50 290.5 v-1.6M389.61 290.5 v-0.9M392.72 290.5 v-0.9M395.83 290.5 v-0.9M398.94 290.5 v-0.9M402.05 290.5 v-1.6M405.16 290.5 v-0.9M408.27 290.5 v-0.9M411.38 290.5 v-0.9M414.49 290.5 v-0.9M417.60 290.5 v-1.6M420.71 290.5 v-0.9M423.82 290.5 v-0.9M426.93 290.5 v-0.9M430.04 290.5 v-0.9M433.15 290.5 v-1.6M436.26 290.5 v-0.9M439.37 290.5 v-0.9M442.48 290.5 v-0.9M445.59 290.5 v-0.9M448.70 290.5 v-1.6M451.81 290.5 v-0.9M454.92 290.5 v-0.9M458.03 290.5 v-0.9M461.14 290.5 v-0.9M464.25 290.5 v-1.6M467.36 290.5 v-0.9M470.47 290.5 v-0.9M473.58 290.5 v-0.9M476.69 290.5 v-0.9M479.80 290.5 v-1.6"/>
</g>
<g font-family="Liberation Sans, sans-serif" font-size="5.7" fill="#111" stroke="#111" stroke-width="0.12">
<text x="383.6" y="292.6" text-anchor="end">0</text>
<text x="383.6" y="279.2" text-anchor="end">2</text>
<text x="383.6" y="265.9" text-anchor="end">4</text>
<text x="383.6" y="252.5" text-anchor="end">6</text>
<text x="383.6" y="239.2" text-anchor="end">8</text>
<text x="383.6" y="225.8" text-anchor="end">10</text>
<text x="383.6" y="212.4" text-anchor="end">12</text>
<text x="383.6" y="199.1" text-anchor="end">14</text>
<text x="386.5" y="298" text-anchor="middle">0</text>
<text x="402.1" y="298" text-anchor="middle">50</text>
<text x="417.6" y="298" text-anchor="middle">100</text>
<text x="433.1" y="298" text-anchor="middle">150</text>
<text x="448.7" y="298" text-anchor="middle">200</text>
<text x="464.2" y="298" text-anchor="middle">250</text>
<text x="479.8" y="298" text-anchor="middle">300</text>
<text x="434" y="304.7" text-anchor="middle" font-size="6"><tspan font-style="italic">T</tspan> (K)</text>
<text transform="translate(376.4 243.6) rotate(-90) scale(1.15 1)" text-anchor="middle" font-size="6">χ<tspan font-style="italic">T</tspan> (cm<tspan font-size="4" dy="-2">3</tspan><tspan dy="2"> K/mol)</tspan></text>
</g>
<polyline points="387.12,290.08 387.74,288.41 388.37,286.76 388.99,285.12 389.61,283.49 390.23,281.88 390.85,280.29 391.48,278.71 392.10,277.15 392.72,275.60 393.34,274.05 393.96,272.51 394.59,270.96 395.21,269.40 395.83,267.83 396.45,266.25 397.07,264.67 397.70,263.09 398.32,261.52 398.94,259.97 399.56,258.43 400.18,256.92 400.81,255.43 401.43,253.98 402.05,252.54 402.67,251.11 403.29,249.70 403.92,248.31 404.54,246.95 405.16,245.61 405.78,244.31 406.40,243.05 407.03,241.83 407.65,240.62 408.27,239.43 408.89,238.28 409.51,237.15 410.14,236.04 410.76,234.98 411.38,233.95 412.00,232.95 412.62,231.99 413.25,231.04 413.87,230.12 414.49,229.22 415.11,228.35 415.73,227.52 416.36,226.72 416.98,225.97 417.60,225.25 418.22,224.58 418.84,223.93 419.47,223.32 420.09,222.72 420.71,222.14 421.33,221.58 421.95,221.02 422.58,220.47 423.20,219.92 423.82,219.36 424.44,218.81 425.06,218.26 425.69,217.71 426.31,217.16 426.93,216.62 427.55,216.09 428.17,215.57 428.80,215.06 429.42,214.56 430.04,214.07 430.66,213.59 431.28,213.14 431.91,212.70 432.53,212.27 433.15,211.87 433.77,211.49 434.39,211.12 435.02,210.75 435.64,210.40 436.26,210.06 436.88,209.73 437.50,209.40 438.13,209.09 438.75,208.78 439.37,208.48 439.99,208.18 440.61,207.90 441.24,207.62 441.86,207.34 442.48,207.07 443.10,206.81 443.72,206.55 444.35,206.29 444.97,206.04 445.59,205.79 446.21,205.55 446.83,205.31 447.46,205.07 448.08,204.83 448.70,204.61 449.32,204.38 449.94,204.16 450.57,203.95 451.19,203.74 451.81,203.54 452.43,203.34 453.05,203.15 453.68,202.97 454.30,202.79 454.92,202.62 455.54,202.46 456.16,202.31 456.79,202.15 457.41,202.01 458.03,201.87 458.65,201.73 459.27,201.59 459.90,201.46 460.52,201.33 461.14,201.21 461.76,201.08 462.38,200.96 463.01,200.84 463.63,200.72 464.25,200.61 464.87,200.49 465.49,200.38 466.12,200.26 466.74,200.15 467.36,200.04 467.98,199.92 468.60,199.81 469.23,199.70 469.85,199.60 470.47,199.49 471.09,199.38 471.71,199.28 472.34,199.17 472.96,199.07 473.58,198.97 474.20,198.87 474.82,198.77 475.45,198.68 476.07,198.58 476.69,198.49 477.31,198.40 477.93,198.31 478.56,198.22 479.18,198.13 479.80,198.05" fill="none" stroke="#f02020" stroke-width="0.9"/>
<g fill="#000">
<circle cx="387.12" cy="290.08" r="0.95"/>
<circle cx="387.43" cy="289.25" r="0.95"/>
<circle cx="387.74" cy="288.41" r="0.95"/>
<circle cx="388.06" cy="287.59" r="0.95"/>
<circle cx="388.37" cy="286.76" r="0.95"/>
<circle cx="388.68" cy="285.94" r="0.95"/>
<circle cx="388.99" cy="285.12" r="0.95"/>
<circle cx="389.30" cy="284.31" r="0.95"/>
<circle cx="389.61" cy="283.49" r="0.95"/>
<circle cx="389.92" cy="282.69" r="0.95"/>
<circle cx="390.23" cy="281.88" r="0.95"/>
<circle cx="390.54" cy="281.08" r="0.95"/>
<circle cx="390.85" cy="280.29" r="0.95"/>
<circle cx="391.17" cy="279.50" r="0.95"/>
<circle cx="391.48" cy="278.71" r="0.95"/>
<circle cx="391.79" cy="277.93" r="0.95"/>
<circle cx="392.10" cy="277.15" r="0.95"/>
<circle cx="392.41" cy="276.38" r="0.95"/>
<circle cx="392.72" cy="275.60" r="0.95"/>
<circle cx="393.03" cy="274.83" r="0.95"/>
<circle cx="393.34" cy="274.05" r="0.95"/>
<circle cx="393.65" cy="273.28" r="0.95"/>
<circle cx="393.96" cy="272.51" r="0.95"/>
<circle cx="394.27" cy="271.74" r="0.95"/>
<circle cx="394.59" cy="270.96" r="0.95"/>
<circle cx="394.90" cy="270.18" r="0.95"/>
<circle cx="395.83" cy="267.83" r="0.95"/>
<circle cx="398.94" cy="259.97" r="0.95"/>
<circle cx="402.05" cy="252.54" r="0.95"/>
<circle cx="405.16" cy="245.61" r="0.95"/>
<circle cx="408.27" cy="239.43" r="0.95"/>
<circle cx="411.38" cy="233.95" r="0.95"/>
<circle cx="414.49" cy="229.22" r="0.95"/>
<circle cx="417.60" cy="225.25" r="0.95"/>
<circle cx="420.71" cy="222.14" r="0.95"/>
<circle cx="423.82" cy="219.36" r="0.95"/>
<circle cx="426.93" cy="216.62" r="0.95"/>
<circle cx="430.04" cy="214.07" r="0.95"/>
<circle cx="433.15" cy="211.87" r="0.95"/>
<circle cx="436.26" cy="210.06" r="0.95"/>
<circle cx="439.37" cy="208.48" r="0.95"/>
<circle cx="442.48" cy="207.07" r="0.95"/>
<circle cx="445.59" cy="205.79" r="0.95"/>
<circle cx="448.70" cy="204.61" r="0.95"/>
<circle cx="451.81" cy="203.54" r="0.95"/>
<circle cx="454.92" cy="202.62" r="0.95"/>
<circle cx="458.03" cy="201.87" r="0.95"/>
<circle cx="461.14" cy="201.21" r="0.95"/>
<circle cx="464.25" cy="200.61" r="0.95"/>
<circle cx="467.36" cy="200.04" r="0.95"/>
<circle cx="470.47" cy="199.49" r="0.95"/>
<circle cx="473.58" cy="198.97" r="0.95"/>
<circle cx="476.69" cy="198.49" r="0.95"/>
<circle cx="479.80" cy="198.05" r="0.95"/>
</g>
</svg><!--CH_E-->
<div id="vline"></div>
<div id="title">Spin relaxation in antiferromagnetic Fe–Fe dimers slowed down by anisotropic Dy<sup>III</sup> ions</div>
<div id="authors">Valeriu Mereacre, Frederik Klöwer, Yanhua Lan et al.</div>
<div id="cite"><i>Beilstein J. Nanotechnol.</i> <b>2013,</b> <i>4,</i> 807–814.</div>
<div id="doi">doi:10.3762/bjnano.4.92<br>CC BY 2.0</div>
</body>
</html>
